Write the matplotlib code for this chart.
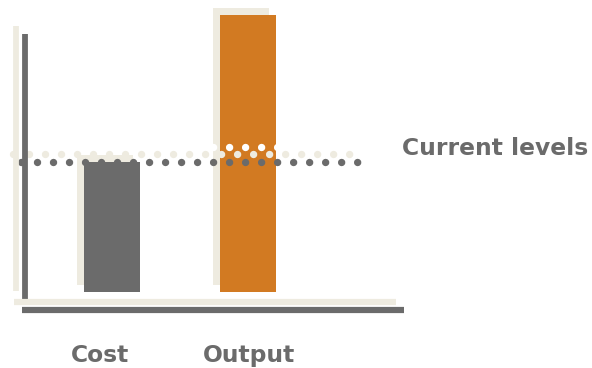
import matplotlib
matplotlib.use("Agg")
import matplotlib.pyplot as plt
import matplotlib.patheffects as pe
from matplotlib.lines import Line2D

# ---- data -------------------------------------------------------------
categories = ["Cost", "Output"]
values = [100, 213]          # bar heights (relative units)
current_level = 100          # reference level
reference_label = "Current levels"

# ---- style ------------------------------------------------------------
GRAY = "#6b6b6b"
BEIGE = "#eeebe0"
ORANGE = "#d27a22"
bar_colors = [GRAY, ORANGE]

W, H, DPI = 592, 368, 100
PX = 72.0 / DPI              # one pixel in points

plt.rcParams["font.family"] = ["DejaVu Sans"]

fig = plt.figure(figsize=(W / DPI, H / DPI), dpi=DPI)
fig.patch.set_facecolor("white")


def fx(px):
    return px / W


def fy(py):
    return 1 - py / H


# plotting area: baseline of the bars at y=292 px
ax_left, ax_right, ax_top, ax_bottom = 24, 404, 0, 292
ax = fig.add_axes([fx(ax_left), fy(ax_bottom), fx(ax_right - ax_left),
                   (ax_bottom - ax_top) / H])
ax.set_facecolor("none")
for s in ax.spines.values():
    s.set_visible(False)
ax.set_xticks([])
ax.set_yticks([])

px_per_unit_x = 136.0
x0_px = 112 - ax_left
ax.set_xlim(-x0_px / px_per_unit_x, (ax_right - ax_left - x0_px) / px_per_unit_x)
ax.set_ylim(0, (ax_bottom - ax_top) / 1.3)

# bars with an offset flat shadow
shadow_bar = [pe.SimplePatchShadow(offset=(-7.5 * PX, 7.5 * PX),
                                   shadow_rgbFace=BEIGE, alpha=1.0),
              pe.Normal()]
bars = ax.bar(range(len(categories)), values, width=56 / px_per_unit_x,
              color=bar_colors, linewidth=0, zorder=2)
for b in bars:
    b.set_path_effects(shadow_bar)

# dotted reference line: white highlight, beige shadow, gray dots
dot_px = 7.4
dot_lw = dot_px * PX
dot_gap = 16.0 / dot_px
x_start = (21 - ax_left) / (ax_right - ax_left)
x_end = (362 - ax_left) / (ax_right - ax_left)
ref = ax.axhline(current_level, xmin=x_start, xmax=x_end, color=GRAY,
                 linewidth=dot_lw, dashes=(0.001, dot_gap),
                 dash_capstyle="round", clip_on=False, zorder=5)
ref.set_path_effects([
    pe.SimpleLineShadow(offset=(0, 15 * PX), shadow_color="white", alpha=1.0),
    pe.SimpleLineShadow(offset=(-8 * PX, 8 * PX), shadow_color=BEIGE, alpha=1.0),
    pe.Normal(),
])

# axis lines drawn as thick strokes with the same shadow
axis_fx = [pe.SimpleLineShadow(offset=(-8.5 * PX, 8 * PX), shadow_color=BEIGE,
                               alpha=1.0), pe.Normal()]
vline = Line2D([fx(24.8), fx(24.8)], [fy(34), fy(299)], transform=fig.transFigure,
               color=GRAY, linewidth=5.8 * PX, solid_capstyle="butt", zorder=4)
hline = Line2D([fx(22), fx(404)], [fy(310), fy(310)], transform=fig.transFigure,
               color=GRAY, linewidth=6.2 * PX, solid_capstyle="butt", zorder=4)
for ln in (vline, hline):
    ln.set_path_effects(axis_fx)
    fig.add_artist(ln)

# texts
label_x = [100, 249.5]
for name, xp in zip(categories, label_x):
    fig.text(fx(xp), fy(362), name, ha="center", va="baseline",
             fontsize=16.8, fontweight="bold", color=GRAY)
fig.text(fx(402), fy(155), reference_label, ha="left", va="baseline",
         fontsize=16.8, fontweight="bold", color=GRAY)

fig.savefig("out.png", dpi=DPI, facecolor="white")
